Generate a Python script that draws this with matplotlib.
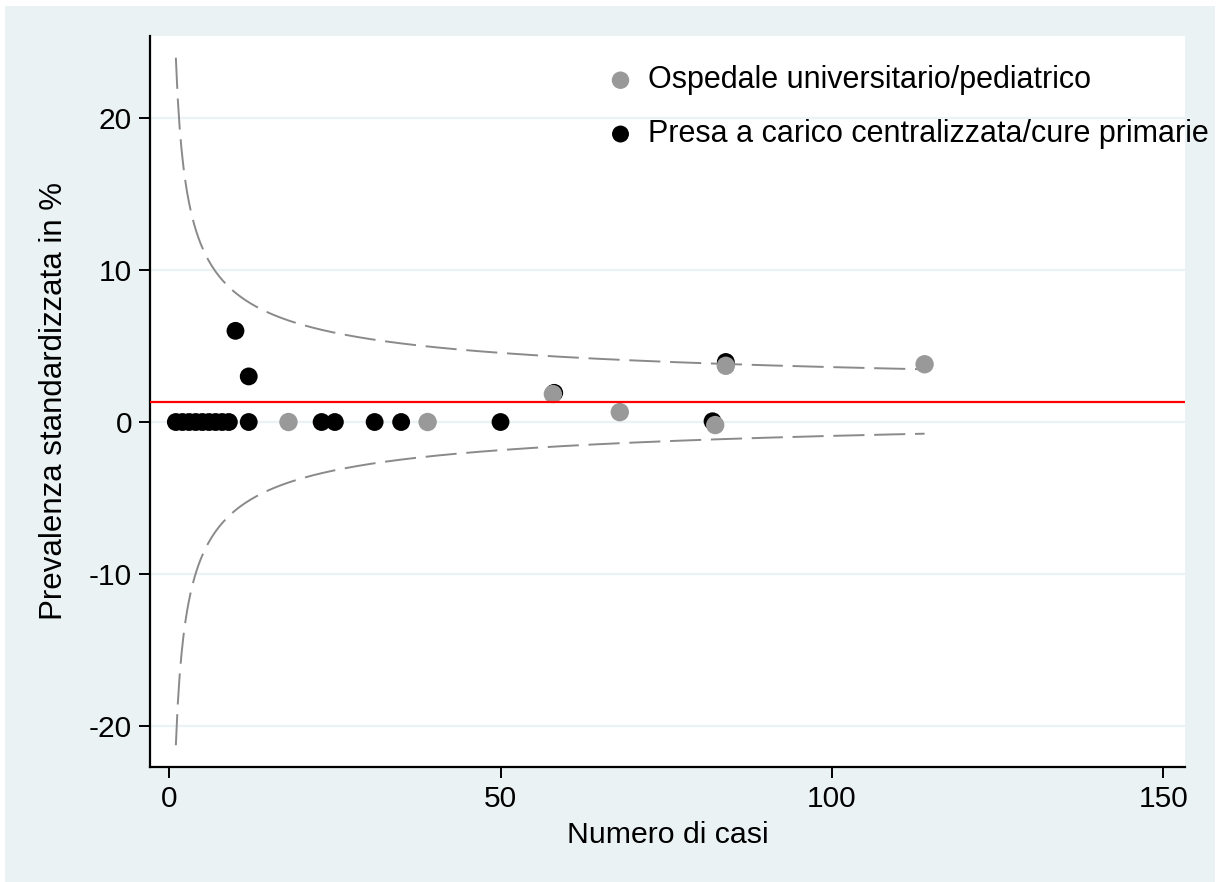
import numpy as np
import matplotlib
matplotlib.use('Agg')
import matplotlib.pyplot as plt
from matplotlib.patches import Rectangle

plt.rcParams['font.family'] = ['Liberation Sans', 'DejaVu Sans']
plt.rcParams['axes.unicode_minus'] = False

# --- Dati ---
# Presa a carico centralizzata/cure primarie (punti neri)
n_cure = [1, 2, 3, 4, 5, 6, 7, 8, 9, 10, 12, 12, 23, 25, 31, 35, 50, 58.1, 82, 84]
prev_cure = [0, 0, 0, 0, 0, 0, 0, 0, 0, 6.0, 3.0, 0, 0, 0, 0, 0, 0, 1.92, 0.05, 3.95]

# Ospedale universitario/pediatrico (punti grigi)
n_osp = [18, 39, 57.9, 68, 82.4, 84, 114]
prev_osp = [0, 0, 1.84, 0.65, -0.2, 3.7, 3.8]

# Prevalenza media e limiti di controllo (funnel)
p_media = 1.35      # %
z = 1.96
n_min, n_max = 1, 114

xticks = [0, 50, 100, 150]
yticks = [-20, -10, 0, 10, 20]

# --- Limiti del funnel ---
n_curve = np.linspace(n_min, n_max, 400)
p = p_media / 100
se = np.sqrt(p * (1 - p) / n_curve) * 100
lim_sup = p_media + z * se
lim_inf = p_media - z * se

# --- Figura ---
bg = '#eaf2f3'
fig = plt.figure(figsize=(12.26, 8.82), dpi=100, facecolor='white')
fig.patches.append(Rectangle((5 / 1226, -0.01), 1210 / 1226, 1.01 - 6 / 882,
                             transform=fig.transFigure, facecolor=bg,
                             edgecolor='none', zorder=-10))
ax = fig.add_axes([150 / 1226, 1 - 767 / 882, 1035 / 1226, 731 / 882])
ax.set_facecolor('white')

for yt in yticks:
    ax.axhline(yt, color=bg, lw=1.6, zorder=0)

ax.plot(n_curve, lim_sup, color='#8a8a8a', lw=1.4, dashes=(16, 5), zorder=2)
ax.plot(n_curve, lim_inf, color='#8a8a8a', lw=1.4, dashes=(16, 5), zorder=2)
ax.axhline(p_media, color='red', lw=1.6, zorder=4)

ax.scatter(n_cure, prev_cure, s=165, color='black', edgecolors='none', zorder=3,
           label='Presa a carico centralizzata/cure primarie')
ax.scatter(n_osp, prev_osp, s=175, color='#999999', edgecolors='none', zorder=3,
           label='Ospedale universitario/pediatrico')

ax.set_xlim(-2.9, 153.3)
ax.set_ylim(-22.7, 25.4)
ax.set_xticks(xticks)
ax.set_yticks(yticks)
ax.tick_params(labelsize=21.5, length=8, width=1.4, pad=5, colors='black')

for s in ['top', 'right']:
    ax.spines[s].set_visible(False)
for s in ['left', 'bottom']:
    ax.spines[s].set_linewidth(1.6)

ax.set_xlabel('Numero di casi', fontsize=21.8, labelpad=6)
ax.set_ylabel('Prevalenza standardizzata in %', fontsize=22.5, labelpad=14)

h, l = ax.get_legend_handles_labels()
leg = ax.legend(h[::-1], l[::-1], loc='upper left',
                bbox_to_anchor=(593 / 1226, 1 - 53 / 882),
                bbox_transform=fig.transFigure, frameon=False,
                fontsize=22, markerscale=0.95, handlelength=1.0,
                handletextpad=0.4, labelspacing=0.78, borderaxespad=0)

fig.savefig('out.png', dpi=100, facecolor=fig.get_facecolor())
